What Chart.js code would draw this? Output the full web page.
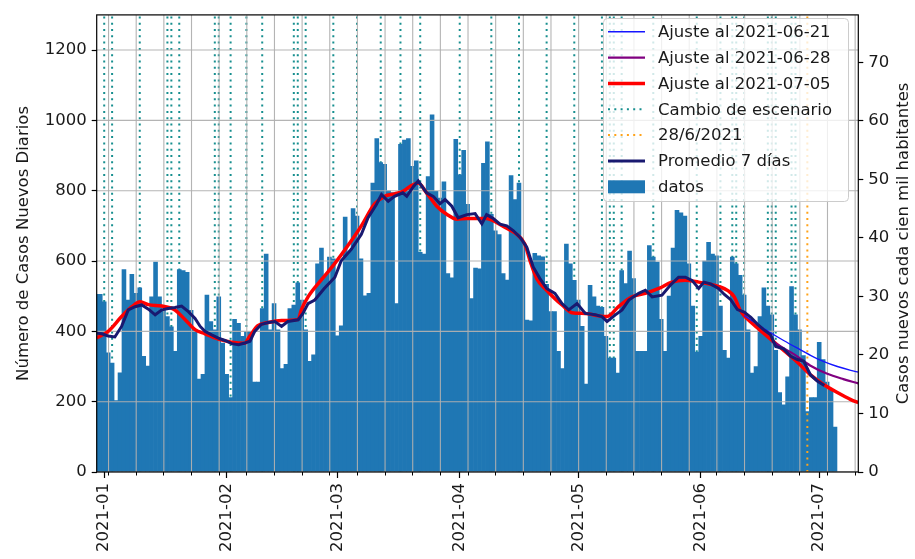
<!DOCTYPE html>
<html><head><meta charset="utf-8">
<script src="https://cdn.jsdelivr.net/npm/chart.js@4/dist/chart.umd.min.js"></script>
<style>html,body{margin:0;padding:0;background:#fff;}#wrap{width:915px;height:559px;}</style>
</head><body><div id="wrap"><canvas id="c" width="915" height="559"></canvas></div>
<script>
// x values are days counted from 2021-01-01 (day 0)
const firstBarDay = -2;
const dailyCases = [505,505,484,339,310,203,282,576,489,562,508,524,329,301,498,597,498,460,442,413,343,576,573,568,460,404,264,278,503,428,404,498,367,278,212,434,423,386,400,400,256,256,465,620,404,479,404,294,306,465,475,538,489,404,315,333,592,637,559,611,606,387,416,725,625,749,728,606,501,508,822,948,880,875,800,795,479,932,944,948,869,885,625,620,840,1016,798,779,825,564,552,946,845,915,761,493,580,578,878,939,733,686,675,564,546,843,775,822,653,432,430,622,615,612,534,456,456,343,294,648,592,545,489,414,250,531,498,472,468,386,324,324,281,573,536,628,550,343,343,343,644,611,597,434,343,500,637,744,737,728,592,472,341,386,600,653,620,615,472,346,324,611,592,559,503,404,281,300,442,524,472,447,346,226,191,271,527,447,404,331,172,212,212,369,320,256,235,128];

const avgDays = [-1.9,-0.6,1,2.7,4.4,6.1,7.8,9.5,11.2,12.9,14.6,16.2,17.9,19.6,21.3,23,24.3,25.5,27.2,28.9,30.6,32.3,34,35.6,36.9,38.1,39.8,41.5,43.2,44.9,46.5,49.1,50.3,51.6,53.3,55.7,58.4,60,62.6,65.1,66.8,68.9,70.2,71.9,73.5,75.6,76.6,78.3,79.5,81.6,83.3,85,86.3,88,89.6,91.8,93.9,95.6,96.8,98.5,100.2,101.9,103.6,105.3,107,108.6,110.3,112,114.1,115.9,117.6,119.7,121.8,124.3,126,127.3,129.4,131.1,132.8,135.3,137,138.7,141.2,143.3,145.4,147.1,148.8,150.5,151.8,153.5,155.5,157,158.6,160.3,162,163.7,165.4,167,168.7,170,172,173.8,175.5,177.1,178.8,180.5,182.3];
const avgVals = [395,393,387,384,414,461,470,475,463,447,461,465,468,472,456,437,414,400,390,381,374,365,362,367,372,400,420,425,428,414,428,433,451,479,489,522,554,601,634,676,723,761,789,770,784,794,784,812,828,794,784,763,775,756,723,732,735,706,732,721,705,700,686,667,639,583,550,522,508,479,461,479,451,447,442,428,447,461,489,508,517,498,503,531,554,554,545,522,540,535,522,505,490,462,455,440,420,404,390,357,350,329,320,315,276,259,246];

const fit0705Days = [-1.9,1,4.4,7,9.1,11.2,14.6,17.9,20.5,23,25.5,28.9,32.3,35.5,36.9,38.9,41.5,44.9,49.1,49.9,51.6,55,58.3,61.7,65.1,68.5,71,73.5,75.6,77.4,79.5,81.6,84.2,86.7,89.3,91.8,96.8,99.4,101.9,104.4,106.5,107.8,109.5,112,114.1,115.9,118.4,121.8,125.2,127.3,130.2,133.6,137,140.4,143.7,147.1,150.5,153,155.5,158,159.5,161,162,165.4,168.7,172.1,175.5,178.8,182.2,185.6,189,190.9];
const fit0705Vals = [381,400,442,470,484,476,472,461,433,405,393,378,369,366,387,416,425,431,434,461,498,547,592,644,700,763,784,791,798,812,822,794,756,733,719,721,721,709,693,676,648,601,550,517,493,475,453,451,444,442,470,498,508,522,540,545,540,535,528,515,498,460,445,410,378,345,312,276,248,226,206,197];
const fit0628Days = [169,172,174.5,178.7,182.9,187.1,190.9];
const fit0628Vals = [372,352,336,303,280,264,252];
const fit0621Days = [162,165.4,168.7,172,175.5,178.8,182.2,185.6,189,190.9];
const fit0621Vals = [445,420,396,374,352,332,314,300,289,284];

const scenarioChangeDays = [0,2,9,16,17,19,28,29,32,36,40,48,49,51,58,64,70,75,80,90,98,105,112,119,126,128,129,131,139,150,156,159,160,162,168,169,170,174,175];
const markerDay = 178; // 28/6/2021
const monthTickDays = [0,31,59,90,120,151,181];
const monthTickLabels = ['2021-01','2021-02','2021-03','2021-04','2021-05','2021-06','2021-07'];
const weekGridFirstDay = 1.1;
const leftTickVals = [0,200,400,600,800,1000,1200];
const rightTickVals = [0,10,20,30,40,50,60,70];
const casesPerUnitRight = 16.64;
const yMaxLeft = 1300;
const xMin = -1.9, xMax = 190.9;

const FONT = 'DejaVu Sans';
const TXT = '#1a1a1a';

function pts(days, vals){ return days.map((d,i)=>({x:d,y:vals[i]})); }
function vlines(days){ const a=[]; days.forEach(d=>{a.push({x:d,y:0},{x:d,y:yMaxLeft},{x:d,y:null});}); return a; }

const datasets = [
  {type:'line', label:'Ajuste al 2021-06-21', data:pts(fit0621Days,fit0621Vals), borderColor:'#1515ff', borderWidth:1.4, pointRadius:0, cubicInterpolationMode:'monotone', order:3},
  {type:'line', label:'Ajuste al 2021-06-28', data:pts(fit0628Days,fit0628Vals), borderColor:'#800080', borderWidth:2.2, pointRadius:0, cubicInterpolationMode:'monotone', order:4},
  {type:'line', label:'Ajuste al 2021-07-05', data:pts(fit0705Days,fit0705Vals), borderColor:'#ff0000', borderWidth:3.5, pointRadius:0, cubicInterpolationMode:'monotone', order:5},
  {type:'line', label:'Cambio de escenario', data:vlines(scenarioChangeDays), borderColor:'#178f8f', borderWidth:2, borderDash:[2,4.3], pointRadius:0, spanGaps:false, order:20},
  {type:'line', label:'28/6/2021', data:vlines([markerDay]), borderColor:'#ffa31a', borderWidth:2, borderDash:[2,4.3], pointRadius:0, spanGaps:false, order:8},
  {type:'line', label:'Promedio 7 días', data:pts(avgDays,avgVals), borderColor:'#191970', borderWidth:3, pointRadius:0, tension:0, order:2},
  {type:'bar', label:'datos', data:dailyCases.map((v,i)=>({x:firstBarDay+i,y:v})), backgroundColor:'#1f77b4', borderWidth:0, barPercentage:1, categoryPercentage:1, order:10}
];
datasets.forEach(d=>{d.xAxisID='x'; d.yAxisID='y';});

const decor = {
  id:'decor',
  afterDatasetDraw(chart, args){
    if (args.meta.type !== 'bar') return;
    const ctx = chart.ctx, a = chart.chartArea;
    ctx.save();
    ctx.beginPath(); ctx.rect(a.left,a.top,a.right-a.left,a.bottom-a.top); ctx.clip();
    ctx.strokeStyle = 'rgba(176,176,176,0.95)'; ctx.lineWidth = 1.1;
    chart.scales.y.ticks.forEach(t=>{ const y = chart.scales.y.getPixelForValue(t.value); ctx.beginPath(); ctx.moveTo(a.left,y); ctx.lineTo(a.right,y); ctx.stroke(); });
    chart.scales.xw.ticks.forEach(t=>{ const x = chart.scales.xw.getPixelForValue(t.value); ctx.beginPath(); ctx.moveTo(x,a.top); ctx.lineTo(x,a.bottom); ctx.stroke(); });
    ctx.restore();
  },
  afterDatasetsDraw(chart){
    const ctx = chart.ctx, a = chart.chartArea;
    ctx.save(); ctx.strokeStyle = '#000'; ctx.lineWidth = 1.2;
    ctx.strokeRect(a.left, a.top, a.right-a.left, a.bottom-a.top);
    ctx.restore();
  },
  afterDraw(chart){
    const ctx = chart.ctx, a = chart.chartArea;
    ctx.save();
    ctx.fillStyle = TXT; ctx.font = '16.5px "'+FONT+'"'; ctx.textAlign='center'; ctx.textBaseline='middle';
    const cy = (a.top+a.bottom)/2;
    ctx.save(); ctx.translate(24, cy); ctx.rotate(-Math.PI/2); ctx.fillText('Número de Casos Nuevos Diarios',0,0); ctx.restore();
    ctx.save(); ctx.translate(904, cy); ctx.rotate(-Math.PI/2); ctx.fillText('Casos nuevos cada cien mil habitantes',0,0); ctx.restore();
    const bx = 603.5, by = 18.5, bw = 245, bh = 183;
    ctx.beginPath();
    if (ctx.roundRect) ctx.roundRect(bx,by,bw,bh,4); else ctx.rect(bx,by,bw,bh);
    ctx.fillStyle = 'rgba(255,255,255,0.8)'; ctx.fill();
    ctx.strokeStyle = '#cccccc'; ctx.lineWidth = 1; ctx.stroke();
    const order = ['Ajuste al 2021-06-21','Ajuste al 2021-06-28','Ajuste al 2021-07-05','Cambio de escenario','28/6/2021','Promedio 7 días','datos'];
    order.forEach((lab,i)=>{
      const ds = chart.data.datasets.find(d=>d.label===lab);
      const ry = 31.7 + i*25.85;
      const hx0 = 608, hx1 = 645;
      if (ds.type === 'bar'){
        ctx.fillStyle = ds.backgroundColor; ctx.fillRect(hx0, ry-6.5, hx1-hx0, 13);
      } else {
        ctx.save(); ctx.strokeStyle = ds.borderColor; ctx.lineWidth = ds.borderWidth;
        if (ds.borderDash) ctx.setLineDash(ds.borderDash);
        ctx.beginPath(); ctx.moveTo(hx0, ry); ctx.lineTo(hx1, ry); ctx.stroke(); ctx.restore();
      }
      ctx.fillStyle = TXT; ctx.font = '16.5px "'+FONT+'"'; ctx.textAlign='left'; ctx.textBaseline='middle';
      ctx.fillText(lab, 658, ry+1);
    });
    ctx.restore();
  }
};

const tickFont = {family:FONT, size:16.5};
new Chart(document.getElementById('c'), {
  data:{datasets},
  options:{
    responsive:false, animation:false, devicePixelRatio:1,
    layout:{padding:{top:10,left:0,right:0,bottom:0}},
    plugins:{legend:{display:false}, tooltip:{enabled:false}, title:{display:false}},
    scales:{
      x:{type:'linear', position:'bottom', min:xMin, max:xMax, weight:1, offset:false,
         afterBuildTicks:s=>{ s.ticks = monthTickDays.map(v=>({value:v})); },
         afterFit:s=>{ s.height = 87; },
         ticks:{autoSkip:false, maxRotation:90, minRotation:90, padding:5, color:TXT, font:tickFont,
                callback:v=>monthTickLabels[monthTickDays.indexOf(v)]},
         grid:{drawOnChartArea:false, drawTicks:true, tickLength:6, tickColor:'#000', tickWidth:1.2, offset:false},
         border:{display:false}},
      xw:{type:'linear', position:'bottom', min:xMin, max:xMax, weight:0, offset:false,
         afterBuildTicks:s=>{ const t=[]; for(let d=weekGridFirstDay; d<=xMax; d+=7) t.push({value:d}); s.ticks=t; },
         afterFit:s=>{ s.height = 0; },
         ticks:{display:false},
         grid:{drawOnChartArea:false, drawTicks:true, tickLength:3.5, tickColor:'#000', tickWidth:1, offset:false},
         border:{display:false}},
      y:{position:'left', min:0, max:yMaxLeft,
         afterBuildTicks:s=>{ s.ticks = leftTickVals.map(v=>({value:v})); },
         afterFit:s=>{ s.width = 96.7; },
         ticks:{padding:5, color:TXT, font:tickFont, callback:v=>String(v)},
         grid:{drawOnChartArea:false, tickLength:5, tickColor:'#000', tickWidth:1.2},
         border:{display:false}},
      y2:{position:'right', min:0, max:yMaxLeft/casesPerUnitRight,
         afterBuildTicks:s=>{ s.ticks = rightTickVals.map(v=>({value:v})); },
         afterFit:s=>{ s.width = 56.7; },
         ticks:{padding:5, color:TXT, font:tickFont, callback:v=>String(v)},
         grid:{drawOnChartArea:false, tickLength:5, tickColor:'#000', tickWidth:1.2},
         border:{display:false}}
    }
  },
  plugins:[decor]
});
</script></body></html>
